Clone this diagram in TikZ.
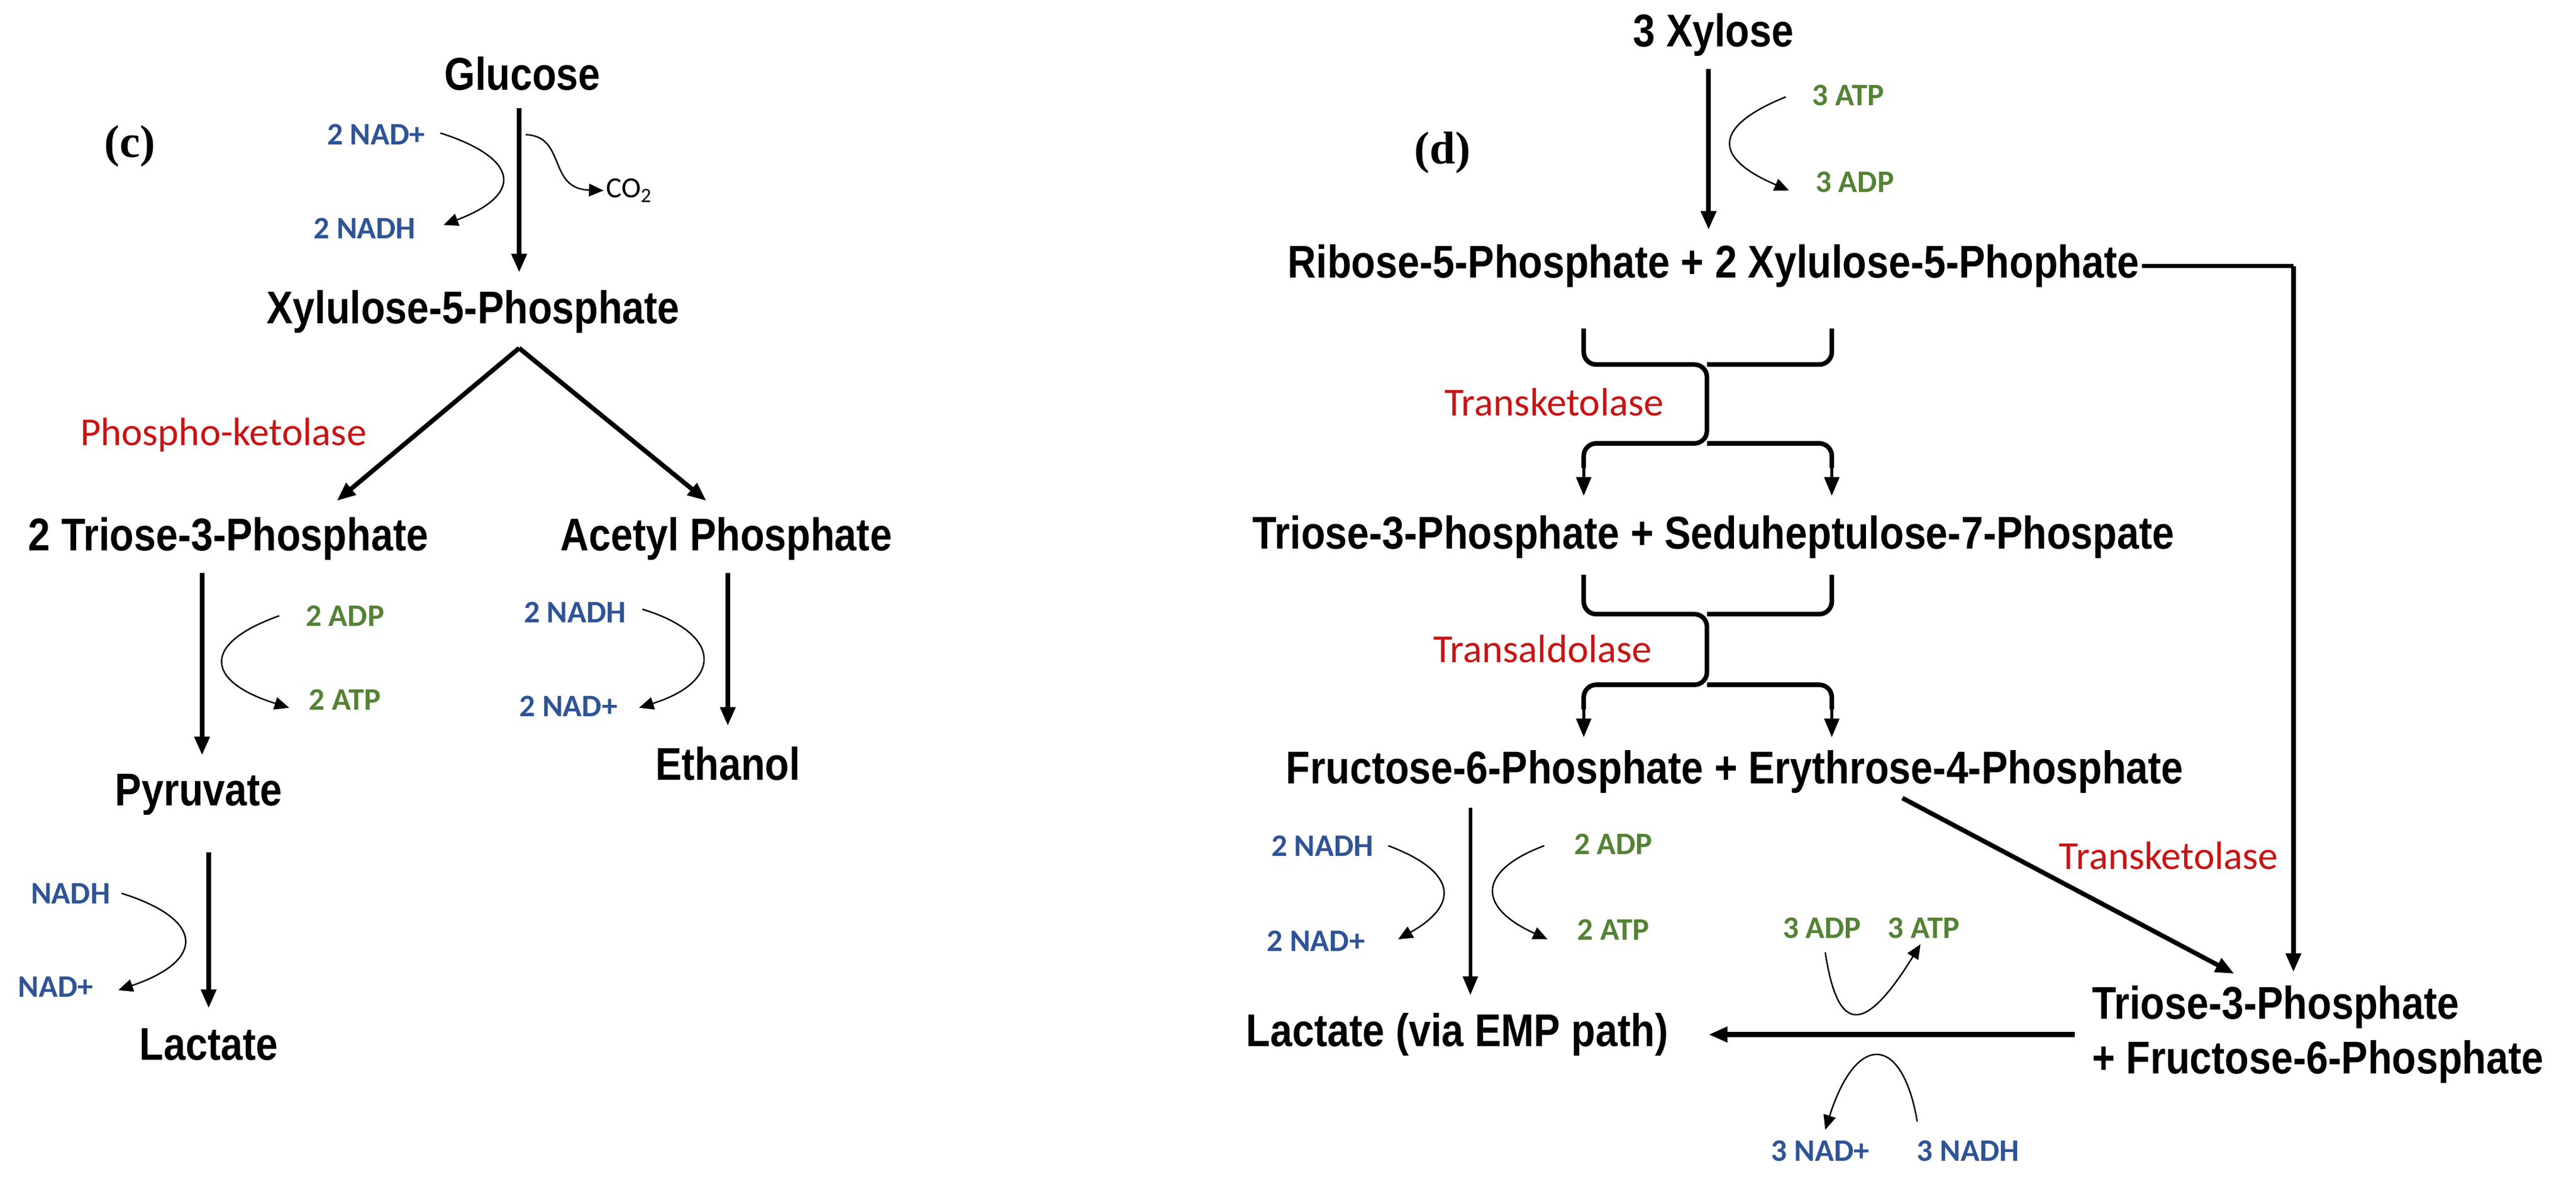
\documentclass[tikz,border=0pt]{standalone}
\usepackage{fontspec}
\setmainfont{Liberation Sans}
\newfontfamily\mainbf{Liberation Sans}[FakeStretch=0.86]
\newfontfamily\lab{Carlito}
\newfontfamily\panel{Liberation Serif}
\usetikzlibrary{arrows.meta}
\definecolor{cblue}{RGB}{47,84,150}
\definecolor{cgreen}{RGB}{84,130,53}
\definecolor{cred}{RGB}{200,20,20}
\begin{document}
\begin{tikzpicture}[x=0.02763cm,y=-0.02763cm,
 met/.style={font=\mainbf\bfseries\fontsize{22}{26}\selectfont,inner sep=1pt,align=center},
 enz/.style={font=\lab\fontsize{19}{22}\selectfont,text=cred,inner sep=1pt},
 bl/.style={font=\lab\bfseries\fontsize{15}{18}\selectfont,text=cblue,inner sep=1pt},
 gr/.style={font=\lab\bfseries\fontsize{15}{18}\selectfont,text=cgreen,inner sep=1pt},
 pan/.style={font=\panel\bfseries\fontsize{22}{25}\selectfont},
 big/.style={line width=2.2pt,-{Triangle[length=9pt,width=7pt]}},
 thin/.style={line width=0.7pt,-{Triangle[length=7pt,width=6pt]}},
 brk/.style={line width=2.2pt,rounded corners=6pt}]
\useasboundingbox (0,0) rectangle (1568,721);
% ---------- panel c
\node[pan] (pc) at (79,89) {(c)};
\node[met] (glu) at (318,45) {Glucose};
\node[met] (x5p) at (288,190) {Xylulose-5-Phosphate};
\node[enz] (pk) at (136,265) {Phospho-ketolase};
\node[met] (t3p) at (139,328) {2 Triose-3-Phosphate};
\node[met] (ap) at (442,328) {Acetyl Phosphate};
\node[met] (pyr) at (121,484) {Pyruvate};
\node[met] (eth) at (443,465) {Ethanol};
\node[met] (lac) at (127,636) {Lactate};
\coordinate (g1) at (316,66); \coordinate (g2) at (316,166);
\draw[big] (g1) -- (g2);
\node[bl] (nad1) at (229,82) {2 NAD+};
\node[bl] (nadh1) at (222,139) {2 NADH};
\coordinate (c1s) at (268,81); \coordinate (c1e) at (270,137);
\draw[thin] (c1s) .. controls (315,96) and (320,118) .. (c1e);
\node[font=\lab\fontsize{14}{16}\selectfont,inner sep=1pt] (co2) at (383,116) {CO\textsubscript{2}};
\coordinate (c2s) at (320,82);
\draw[thin] (c2s) .. controls (345,83) and (333,115) .. (co2.west);
\coordinate (v0) at (316,212); \coordinate (v1) at (205,305); \coordinate (v2) at (430,305);
\draw[big] (v0) -- (v1);
\draw[big] (v0) -- (v2);
\coordinate (a1) at (123,349); \coordinate (a2) at (123,460);
\draw[big] (a1) -- (a2);
\node[gr] (adp1) at (210,375) {2 ADP};
\node[gr] (atp1) at (210,426) {2 ATP};
\coordinate (c3s) at (170,375); \coordinate (c3e) at (176,431);
\draw[thin] (c3s) .. controls (122,392) and (125,415) .. (c3e);
\coordinate (b1) at (443,349); \coordinate (b2) at (443,442);
\draw[big] (b1) -- (b2);
\node[bl] (nadh2) at (350,373) {2 NADH};
\node[bl] (nad2) at (346,430) {2 NAD+};
\coordinate (c4s) at (391,371); \coordinate (c4e) at (389,431);
\draw[thin] (c4s) .. controls (440,386) and (440,415) .. (c4e);
\coordinate (p1) at (127,519); \coordinate (p2) at (127,614);
\draw[big] (p1) -- (p2);
\node[bl] (nadh3) at (43,544) {NADH};
\node[bl] (nad3) at (34,601) {NAD+};
\coordinate (c5s) at (74,544); \coordinate (c5e) at (72,603);
\draw[thin] (c5s) .. controls (125,560) and (125,585) .. (c5e);
% ---------- panel d
\node[pan] (pd) at (878,93) {(d)};
\node[met] (xyl) at (1043,21) {3 Xylose};
\node[met] (r5p) at (1043,162) {Ribose-5-Phosphate + 2 Xylulose-5-Phophate};
\node[met] (ts) at (1043,327) {Triose-3-Phosphate + Seduheptulose-7-Phospate};
\node[met] (fe) at (1056,470) {Fructose-6-Phosphate + Erythrose-4-Phosphate};
\node[met] (lemp) at (887,630) {Lactate (via EMP path)};
\node[met,align=left,anchor=west] (tf) at (1272,630) {Triose-3-Phosphate\\+ Fructose-6-Phosphate};
\coordinate (x1) at (1040,42); \coordinate (x2) at (1040,140);
\draw[big] (x1) -- (x2);
\node[gr] (atp3) at (1125,58) {3 ATP};
\node[gr] (adp3) at (1129,111) {3 ADP};
\coordinate (c6s) at (1087,59); \coordinate (c6e) at (1089,116);
\draw[thin] (c6s) .. controls (1045,76) and (1040,95) .. (c6e);
% right connector
\coordinate (rr) at (1396,162); \coordinate (rt) at (1396,592);
\draw[line width=2.2pt] (r5p.east) -- (rr);
\draw[big] (rr) -- (rt);
% bracket 1
\draw[brk] (964,200) -- (964,222) -- (1039,222) -- (1039,270) -- (964,270) -- (964,285);
\draw[brk] (1115,200) -- (1115,222) -- (1039,222);
\draw[brk] (1039,270) -- (1115,270) -- (1115,285);
\draw[big,line width=1.6pt] (964,282) -- (964,302);
\draw[big,line width=1.6pt] (1115,282) -- (1115,302);
\node[enz] (tk1) at (946,245) {Transketolase};
% bracket 2
\draw[brk] (964,350) -- (964,374) -- (1039,374) -- (1039,417) -- (964,417) -- (964,432);
\draw[brk] (1115,350) -- (1115,374) -- (1039,374);
\draw[brk] (1039,417) -- (1115,417) -- (1115,432);
\draw[big,line width=1.6pt] (964,429) -- (964,449);
\draw[big,line width=1.6pt] (1115,429) -- (1115,449);
\node[enz] (ta) at (939,395) {Transaldolase};
% lower left
\coordinate (f1) at (895,492); \coordinate (f2) at (895,606);
\draw[line width=1.6pt,-{Triangle[length=9pt,width=7pt]}] (f1) -- (f2);
\node[bl] (nadh4) at (805,515) {2 NADH};
\node[bl] (nad4) at (801,573) {2 NAD+};
\coordinate (c7s) at (845,515); \coordinate (c7e) at (851,572);
\draw[thin] (c7s) .. controls (885,530) and (890,550) .. (c7e);
\node[gr] (adp4) at (982,514) {2 ADP};
\node[gr] (atp4) at (982,566) {2 ATP};
\coordinate (c8s) at (940,515); \coordinate (c8e) at (942,572);
\draw[thin] (c8s) .. controls (900,530) and (898,552) .. (c8e);
% transketolase diagonal
\coordinate (d1) at (1158,486); \coordinate (d2) at (1360,593);
\draw[big] (d1) -- (d2);
\node[enz] (tk2) at (1320,521) {Transketolase};
% bottom arrow
\coordinate (h1) at (1263,630); \coordinate (h2) at (1040,630);
\draw[big,line width=2.8pt] (h1) -- (h2);
\node[gr] (adp5) at (1109,565) {3 ADP};
\node[gr] (atp5) at (1171,565) {3 ATP};
\coordinate (c9s) at (1111,580); \coordinate (c9e) at (1169,575);
\draw[thin] (c9s) .. controls (1118,625) and (1132,635) .. (c9e);
\node[bl] (nad5) at (1108,701) {3 NAD+};
\node[bl] (nadh5) at (1198,701) {3 NADH};
\coordinate (c10s) at (1167,683); \coordinate (c10e) at (1111,688);
\draw[thin] (c10s) .. controls (1158,630) and (1130,628) .. (c10e);
\end{tikzpicture}
\end{document}
